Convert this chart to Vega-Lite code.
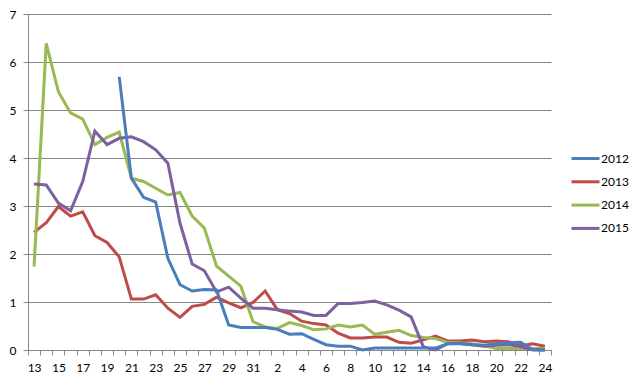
{
  "$schema": "https://vega.github.io/schema/vega-lite/v6.json",
  "width": 523,
  "height": 336,
  "autosize": {"type": "none"},
  "padding": {"left": 28, "top": 14, "right": 90, "bottom": 35},
  "background": "white",
  "config": {
    "view": {"stroke": null},
    "font": "Lato",
    "axis": {"labelFont": "Lato", "labelFontSize": 12, "labelColor": "#000000", "domainColor": "#868686", "tickColor": "#868686", "gridColor": "#868686"}
  },
  "data": {"values": [
    {"date": "03-13", "year": "2013", "v": 2.45}, {"date": "03-13", "year": "2014", "v": 1.74}, {"date": "03-13", "year": "2015", "v": 3.46},
    {"date": "03-14", "year": "2013", "v": 2.65}, {"date": "03-14", "year": "2014", "v": 6.39}, {"date": "03-14", "year": "2015", "v": 3.44},
    {"date": "03-15", "year": "2013", "v": 2.99}, {"date": "03-15", "year": "2014", "v": 5.38}, {"date": "03-15", "year": "2015", "v": 3.06},
    {"date": "03-16", "year": "2013", "v": 2.79}, {"date": "03-16", "year": "2014", "v": 4.94}, {"date": "03-16", "year": "2015", "v": 2.90},
    {"date": "03-17", "year": "2013", "v": 2.88}, {"date": "03-17", "year": "2014", "v": 4.81}, {"date": "03-17", "year": "2015", "v": 3.51},
    {"date": "03-18", "year": "2013", "v": 2.38}, {"date": "03-18", "year": "2014", "v": 4.28}, {"date": "03-18", "year": "2015", "v": 4.56},
    {"date": "03-19", "year": "2013", "v": 2.24}, {"date": "03-19", "year": "2014", "v": 4.43}, {"date": "03-19", "year": "2015", "v": 4.28},
    {"date": "03-20", "year": "2012", "v": 5.69}, {"date": "03-20", "year": "2013", "v": 1.94}, {"date": "03-20", "year": "2014", "v": 4.54}, {"date": "03-20", "year": "2015", "v": 4.41},
    {"date": "03-21", "year": "2012", "v": 3.58}, {"date": "03-21", "year": "2013", "v": 1.06}, {"date": "03-21", "year": "2014", "v": 3.58}, {"date": "03-21", "year": "2015", "v": 4.44},
    {"date": "03-22", "year": "2012", "v": 3.18}, {"date": "03-22", "year": "2013", "v": 1.06}, {"date": "03-22", "year": "2014", "v": 3.51}, {"date": "03-22", "year": "2015", "v": 4.34},
    {"date": "03-23", "year": "2012", "v": 3.08}, {"date": "03-23", "year": "2013", "v": 1.15}, {"date": "03-23", "year": "2014", "v": 3.37}, {"date": "03-23", "year": "2015", "v": 4.17},
    {"date": "03-24", "year": "2012", "v": 1.91}, {"date": "03-24", "year": "2013", "v": 0.87}, {"date": "03-24", "year": "2014", "v": 3.23}, {"date": "03-24", "year": "2015", "v": 3.89},
    {"date": "03-25", "year": "2012", "v": 1.36}, {"date": "03-25", "year": "2013", "v": 0.68}, {"date": "03-25", "year": "2014", "v": 3.28}, {"date": "03-25", "year": "2015", "v": 2.64},
    {"date": "03-26", "year": "2012", "v": 1.23}, {"date": "03-26", "year": "2013", "v": 0.91}, {"date": "03-26", "year": "2014", "v": 2.79}, {"date": "03-26", "year": "2015", "v": 1.79},
    {"date": "03-27", "year": "2012", "v": 1.26}, {"date": "03-27", "year": "2013", "v": 0.95}, {"date": "03-27", "year": "2014", "v": 2.54}, {"date": "03-27", "year": "2015", "v": 1.65},
    {"date": "03-28", "year": "2012", "v": 1.25}, {"date": "03-28", "year": "2013", "v": 1.10}, {"date": "03-28", "year": "2014", "v": 1.75}, {"date": "03-28", "year": "2015", "v": 1.21},
    {"date": "03-29", "year": "2012", "v": 0.52}, {"date": "03-29", "year": "2013", "v": 0.98}, {"date": "03-29", "year": "2014", "v": 1.54}, {"date": "03-29", "year": "2015", "v": 1.31},
    {"date": "03-30", "year": "2012", "v": 0.47}, {"date": "03-30", "year": "2013", "v": 0.88}, {"date": "03-30", "year": "2014", "v": 1.33}, {"date": "03-30", "year": "2015", "v": 1.08},
    {"date": "03-31", "year": "2012", "v": 0.47}, {"date": "03-31", "year": "2013", "v": 0.99}, {"date": "03-31", "year": "2014", "v": 0.59}, {"date": "03-31", "year": "2015", "v": 0.87},
    {"date": "04-01", "year": "2012", "v": 0.47}, {"date": "04-01", "year": "2013", "v": 1.23}, {"date": "04-01", "year": "2014", "v": 0.48}, {"date": "04-01", "year": "2015", "v": 0.87},
    {"date": "04-02", "year": "2012", "v": 0.43}, {"date": "04-02", "year": "2013", "v": 0.84}, {"date": "04-02", "year": "2014", "v": 0.45}, {"date": "04-02", "year": "2015", "v": 0.84},
    {"date": "04-03", "year": "2012", "v": 0.33}, {"date": "04-03", "year": "2013", "v": 0.76}, {"date": "04-03", "year": "2014", "v": 0.57}, {"date": "04-03", "year": "2015", "v": 0.81},
    {"date": "04-04", "year": "2012", "v": 0.34}, {"date": "04-04", "year": "2013", "v": 0.60}, {"date": "04-04", "year": "2014", "v": 0.51}, {"date": "04-04", "year": "2015", "v": 0.79},
    {"date": "04-05", "year": "2012", "v": 0.22}, {"date": "04-05", "year": "2013", "v": 0.55}, {"date": "04-05", "year": "2014", "v": 0.42}, {"date": "04-05", "year": "2015", "v": 0.72},
    {"date": "04-06", "year": "2012", "v": 0.11}, {"date": "04-06", "year": "2013", "v": 0.52}, {"date": "04-06", "year": "2014", "v": 0.44}, {"date": "04-06", "year": "2015", "v": 0.72},
    {"date": "04-07", "year": "2012", "v": 0.08}, {"date": "04-07", "year": "2013", "v": 0.35}, {"date": "04-07", "year": "2014", "v": 0.52}, {"date": "04-07", "year": "2015", "v": 0.97},
    {"date": "04-08", "year": "2012", "v": 0.08}, {"date": "04-08", "year": "2013", "v": 0.25}, {"date": "04-08", "year": "2014", "v": 0.48}, {"date": "04-08", "year": "2015", "v": 0.97},
    {"date": "04-09", "year": "2012", "v": 0.00}, {"date": "04-09", "year": "2013", "v": 0.25}, {"date": "04-09", "year": "2014", "v": 0.52}, {"date": "04-09", "year": "2015", "v": 0.99},
    {"date": "04-10", "year": "2012", "v": 0.04}, {"date": "04-10", "year": "2013", "v": 0.27}, {"date": "04-10", "year": "2014", "v": 0.33}, {"date": "04-10", "year": "2015", "v": 1.02},
    {"date": "04-11", "year": "2012", "v": 0.04}, {"date": "04-11", "year": "2013", "v": 0.27}, {"date": "04-11", "year": "2014", "v": 0.37}, {"date": "04-11", "year": "2015", "v": 0.94},
    {"date": "04-12", "year": "2012", "v": 0.04}, {"date": "04-12", "year": "2013", "v": 0.16}, {"date": "04-12", "year": "2014", "v": 0.41}, {"date": "04-12", "year": "2015", "v": 0.83},
    {"date": "04-13", "year": "2012", "v": 0.04}, {"date": "04-13", "year": "2013", "v": 0.14}, {"date": "04-13", "year": "2014", "v": 0.30}, {"date": "04-13", "year": "2015", "v": 0.69},
    {"date": "04-14", "year": "2012", "v": 0.04}, {"date": "04-14", "year": "2013", "v": 0.21}, {"date": "04-14", "year": "2014", "v": 0.26}, {"date": "04-14", "year": "2015", "v": 0.07},
    {"date": "04-15", "year": "2012", "v": 0.04}, {"date": "04-15", "year": "2013", "v": 0.29}, {"date": "04-15", "year": "2014", "v": 0.24}, {"date": "04-15", "year": "2015", "v": 0.00},
    {"date": "04-16", "year": "2012", "v": 0.13}, {"date": "04-16", "year": "2013", "v": 0.19}, {"date": "04-16", "year": "2014", "v": 0.16}, {"date": "04-16", "year": "2015", "v": 0.13},
    {"date": "04-17", "year": "2012", "v": 0.14}, {"date": "04-17", "year": "2013", "v": 0.19}, {"date": "04-17", "year": "2014", "v": 0.15}, {"date": "04-17", "year": "2015", "v": 0.13},
    {"date": "04-18", "year": "2012", "v": 0.11}, {"date": "04-18", "year": "2013", "v": 0.21}, {"date": "04-18", "year": "2014", "v": 0.13}, {"date": "04-18", "year": "2015", "v": 0.11},
    {"date": "04-19", "year": "2012", "v": 0.10}, {"date": "04-19", "year": "2013", "v": 0.17}, {"date": "04-19", "year": "2014", "v": 0.09}, {"date": "04-19", "year": "2015", "v": 0.08},
    {"date": "04-20", "year": "2012", "v": 0.13}, {"date": "04-20", "year": "2013", "v": 0.19}, {"date": "04-20", "year": "2014", "v": 0.03}, {"date": "04-20", "year": "2015", "v": 0.10},
    {"date": "04-21", "year": "2012", "v": 0.15}, {"date": "04-21", "year": "2013", "v": 0.17}, {"date": "04-21", "year": "2014", "v": 0.03}, {"date": "04-21", "year": "2015", "v": 0.11},
    {"date": "04-22", "year": "2012", "v": 0.16}, {"date": "04-22", "year": "2013", "v": 0.09}, {"date": "04-22", "year": "2014", "v": 0.03}, {"date": "04-22", "year": "2015", "v": 0.07},
    {"date": "04-23", "year": "2012", "v": 0.01}, {"date": "04-23", "year": "2013", "v": 0.13}, {"date": "04-23", "year": "2014", "v": 0.03}, {"date": "04-23", "year": "2015", "v": 0.00},
    {"date": "04-24", "year": "2012", "v": 0.00}, {"date": "04-24", "year": "2013", "v": 0.08}, {"date": "04-24", "year": "2014", "v": 0.03}, {"date": "04-24", "year": "2015", "v": 0.00}
  ]},
  "mark": {"type": "line", "strokeWidth": 3},
  "encoding": {
    "x": {
      "field": "date", "type": "ordinal", "title": null,
      "scale": {"type": "band", "paddingInner": 0, "paddingOuter": 0},
      "axis": {
        "tickBand": "extent", "tickSize": 5, "labelPadding": 7, "labelAngle": 0, "grid": false,
        "labelExpr": "isString(datum.label) && length(datum.label) == 5 && (toNumber(slice(datum.label,0,2)) + toNumber(slice(datum.label,3))) % 2 == 0 ? '' + toNumber(slice(datum.label,3)) : ''"
      }
    },
    "y": {
      "field": "v", "type": "quantitative", "title": null,
      "scale": {"domain": [0, 7], "nice": false},
      "axis": {"values": [0, 1, 2, 3, 4, 5, 6, 7], "grid": true, "tickSize": 5, "labelPadding": 7}
    },
    "color": {
      "field": "year", "type": "nominal",
      "scale": {"domain": ["2012", "2013", "2014", "2015"], "range": ["#4A7EBB", "#BE4B48", "#98B954", "#7D60A0"]},
      "legend": {
        "title": null, "orient": "none", "legendX": 542, "legendY": 129, "padding": 0,
        "symbolType": "stroke", "symbolSize": 784, "symbolStrokeWidth": 3,
        "labelFont": "Lato", "labelFontSize": 12, "labelColor": "#000000", "labelOffset": 0, "rowPadding": 1.3
      }
    }
  }
}
